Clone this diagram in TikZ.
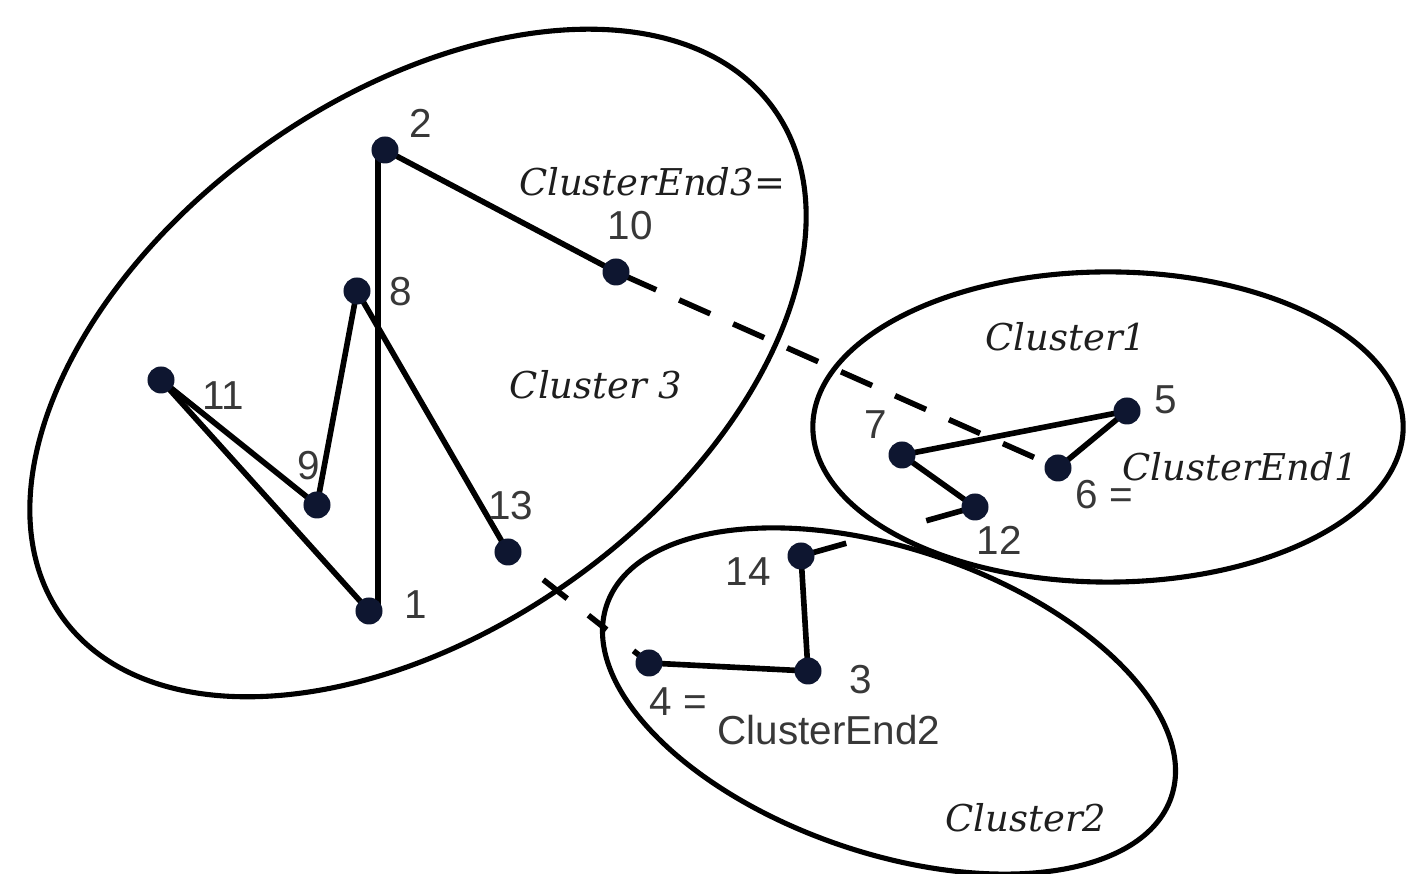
\documentclass[tikz,border=0pt]{standalone}
\usepackage{fontspec}
\setmainfont{Liberation Sans}
\newfontfamily\clfont{DejaVu Serif}
\usetikzlibrary{calc,backgrounds}
\definecolor{dotblue}{HTML}{0E1630}
\definecolor{numgray}{HTML}{383838}
\definecolor{labgray}{HTML}{1E1E1E}
\tikzset{
  dot/.style={circle, fill=dotblue, inner sep=0pt, minimum size=0.27cm},
  link/.style={line width=1.6pt, black},
  bridge/.style={link, dash pattern=on 0.34cm off 0.25cm, dash phase=0.49cm},
  rim/.style={line width=1.45pt, black},
  num/.style={text=numgray, font=\fontsize{11.5}{13}\selectfont, inner sep=0pt},
  clab/.style={text=labgray, font=\fontsize{10.5}{12}\selectfont\clfont\itshape, inner sep=0pt},
}
\begin{document}
\begin{tikzpicture}[x=0.01cm, y=-0.01cm]
\useasboundingbox (0,0) rectangle (1406,874);

% data points
\node[dot] (n1)  at (369,611) {};
\node[dot] (n2)  at (385,150) {};
\node[dot] (n3)  at (808,671) {};
\node[dot] (n4)  at (649,663) {};
\node[dot] (n5)  at (1127,411) {};
\node[dot] (n6)  at (1058,468) {};
\node[dot] (n7)  at (902,455) {};
\node[dot] (n8)  at (357,291) {};
\node[dot] (n9)  at (317,505) {};
\node[dot] (n10) at (616,272) {};
\node[dot] (n11) at (161,380) {};
\node[dot] (n12) at (975,507) {};
\node[dot] (n13) at (508,552) {};
\node[dot] (n14) at (801,556) {};

\begin{scope}[on background layer]
  % cluster outlines
  \draw[rim, rotate around={35.5:(418,363)}] (418,363) ellipse [x radius=4.37cm, y radius=2.66cm];
  \draw[rim] (1108,427) ellipse [x radius=2.95cm, y radius=1.55cm];
  \draw[rim, rotate around={-18.8:(889,701)}] (889,701) ellipse [x radius=2.98cm, y radius=1.52cm];

  % cluster 3 chain
  \draw[link] ([xshift=-0.07cm]n2.center) -- ([xshift=0.09cm]n1.center);
  \draw[link] (n2.center) -- (n10.center);
  \draw[link] (n11.center) -- (n1.center);
  \draw[link] (n11.center) -- (n9.center);
  \draw[link] (n9.center) -- (n8.center);
  \draw[link] (n8.center) -- (n13.center);

  % cluster 1 chain
  \draw[link] (n7.center) -- (n5.center);
  \draw[link] (n5.center) -- (n6.center);
  \draw[link] (n7.center) -- (n12.center);

  % cluster 2 chain
  \draw[link] (n14.center) -- (n3.center);
  \draw[link] (n3.center) -- (n4.center);

  % links between cluster ends
  \draw[bridge] (n10.center) -- (n6.center);
  \draw[link] ($(n13)!0.25!(n4)$) -- ($(n13)!0.42!(n4)$);
  \draw[link] ($(n13)!0.57!(n4)$) -- ($(n13)!0.70!(n4)$);
  \draw[link] ($(n13)!0.89!(n4)$) -- (n4.center);
  \draw[link] (n14.center) -- ($(n14)!0.26!(n12)$);
  \draw[link] (n12.center) -- ($(n12)!0.28!(n14)$);
\end{scope}

% point numbers
\node[num] (t1)  at (416,605) {1};
\node[num] (t2)  at (421,123) {2};
\node[num] (t3)  at (861,680) {3};
\node[num] (t4)  at (678,702) {4 =};
\node[num] (t5)  at (1166,400) {5};
\node[num] (t6)  at (1104,495) {6 =};
\node[num] (t7)  at (876,425) {7};
\node[num] (t8)  at (401,292) {8};
\node[num] (t9)  at (309,466) {9};
\node[num] (t10) at (630,226) {10};
\node[num] (t11) at (223,396) {11};
\node[num] (t12) at (999,540) {12};
\node[num] (t13) at (511,506) {13};
\node[num] (t14) at (748,572) {14};
\node[num] (e2)  at (829,730) {ClusterEnd2};

% cluster names
\node[clab] (c3) at (596,385) {Cluster 3};
\node[clab] (c1) at (1066,337) {Cluster1};
\node[clab] (c2) at (1026,818) {Cluster2};
\node[clab] (e3) at (652,182) {ClusterEnd3=};
\node[clab] (e1) at (1240,467) {ClusterEnd1};
\end{tikzpicture}
\end{document}
